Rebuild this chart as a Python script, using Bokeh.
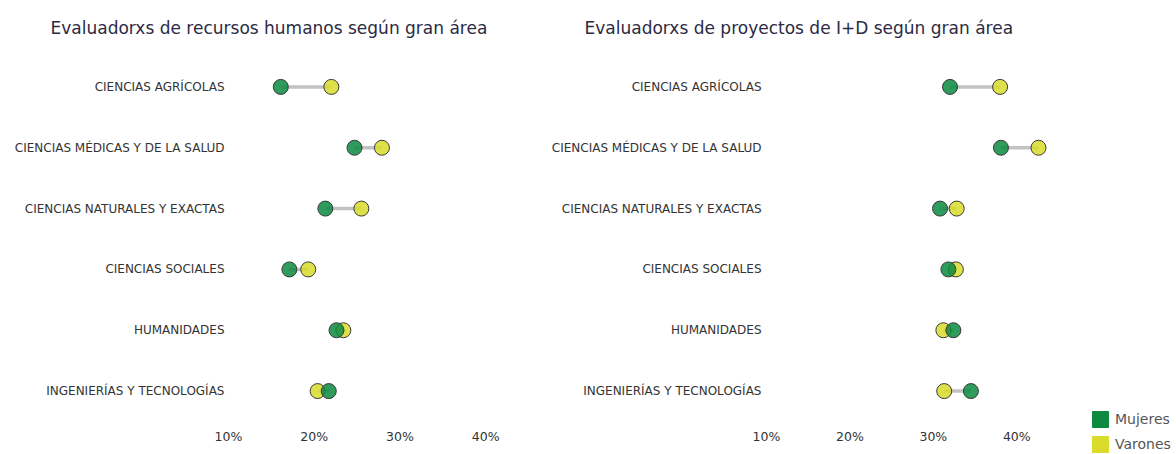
from bokeh.plotting import figure
from bokeh.models import ColumnDataSource, FactorRange, Range1d, FixedTicker, PrintfTickFormatter, Legend, LegendItem, Title
from bokeh.layouts import row, column
from bokeh.embed import file_html
from bokeh.resources import INLINE

categorias = ["CIENCIAS AGRÍCOLAS", "CIENCIAS MÉDICAS Y DE LA SALUD", "CIENCIAS NATURALES Y EXACTAS",
              "CIENCIAS SOCIALES", "HUMANIDADES", "INGENIERÍAS Y TECNOLOGÍAS"]
rrhh_mujeres = [16.1, 24.7, 21.3, 17.1, 22.6, 21.7]
rrhh_varones = [22.0, 27.9, 25.5, 19.3, 23.4, 20.4]
idi_mujeres = [32.0, 38.1, 30.8, 31.8, 32.4, 34.5]
idi_varones = [38.0, 42.6, 32.8, 32.7, 31.2, 31.3]
ticks = [10, 20, 30, 40]
titulos = ["Evaluadorxs de recursos humanos según gran área",
           "Evaluadorxs de proyectos de I+D según gran área"]
series = ["Mujeres", "Varones"]

VERDE = "#0b8a40"
AMARILLO = "#d9dc2a"
FONT = "DejaVu Sans"
H = 454


def make_fig(title, muj, var, width, border_left, border_right, title_offset, label_standoff):
    p = figure(width=width, height=H, output_backend="svg", toolbar_location=None,
               y_range=FactorRange(factors=list(reversed(categorias)), range_padding=0),
               x_range=Range1d(10, 45),
               min_border_left=border_left, min_border_right=border_right,
               min_border_top=56, min_border_bottom=33)
    p.outline_line_color = None
    p.background_fill_color = "white"
    p.border_fill_color = "white"
    p.xgrid.visible = False
    p.ygrid.visible = False
    t = Title(text=title, text_font=FONT, text_font_size="17px", text_font_style="normal",
              text_color="#2b2b45", align="left", offset=title_offset, standoff=34,
              vertical_align="top")
    p.add_layout(t, "above")

    src = ColumnDataSource(dict(cat=categorias, m=muj, v=var))
    p.segment(x0="m", x1="v", y0="cat", y1="cat", source=src, line_color="#c2c2c2", line_width=3.5)
    p.scatter(x="v", y="cat", source=src, size=15, fill_color=AMARILLO, fill_alpha=0.85,
              line_color="#3a3a3a", line_width=1)
    p.scatter(x="m", y="cat", source=src, size=15, fill_color=VERDE, fill_alpha=0.85,
              line_color="#3a3a3a", line_width=1)

    p.xaxis.ticker = FixedTicker(ticks=ticks)
    p.xaxis.formatter = PrintfTickFormatter(format="%d%%")
    for ax in (p.xaxis, p.yaxis):
        ax.axis_line_color = None
        ax.major_tick_line_color = None
        ax.minor_tick_line_color = None
        ax.major_tick_out = 0
        ax.major_tick_in = 0
        ax.minor_tick_out = 0
        ax.minor_tick_in = 0
        ax.major_label_text_font = FONT
        ax.major_label_text_color = "#333333"
    p.xaxis.major_label_text_font_size = "12.5px"
    p.xaxis.major_label_standoff = 7
    p.yaxis.major_label_text_font_size = "12px"
    p.yaxis.major_label_standoff = label_standoff
    return p


p1 = make_fig(titulos[0], rrhh_mujeres, rrhh_varones, 536, 228, 8, -178, 4)
p2 = make_fig(titulos[1], idi_mujeres, idi_varones, 522, 230, 0, -182, 5)

# legend-only figure on the far right (swatches drawn outside its visible range)
p3 = figure(width=118, height=H, output_backend="svg", toolbar_location=None,
            x_axis_type=None, y_axis_type=None,
            x_range=Range1d(0, 1), y_range=Range1d(0, 1),
            min_border_left=0, min_border_right=0, min_border_top=0, min_border_bottom=0)
p3.grid.visible = False
p3.outline_line_color = None
r_m = p3.quad(left=[5], right=[6], top=[6], bottom=[5], fill_color=VERDE, line_color=VERDE)
r_v = p3.quad(left=[5], right=[6], top=[6], bottom=[5], fill_color=AMARILLO, line_color=AMARILLO)
legend = Legend(items=[LegendItem(label=series[0], renderers=[r_m]),
                       LegendItem(label=series[1], renderers=[r_v])],
                location=(32, 0), orientation="vertical",
                glyph_width=20, glyph_height=20, label_height=20, spacing=5, padding=0, margin=0,
                label_text_font=FONT, label_text_font_size="14px", label_text_color="#555555",
                label_standoff=5, border_line_color=None, background_fill_alpha=0)
p3.add_layout(legend, "center")

layout = row(row(p1, p2), column(p3))
open("out.html", "w").write(file_html(layout, INLINE))
